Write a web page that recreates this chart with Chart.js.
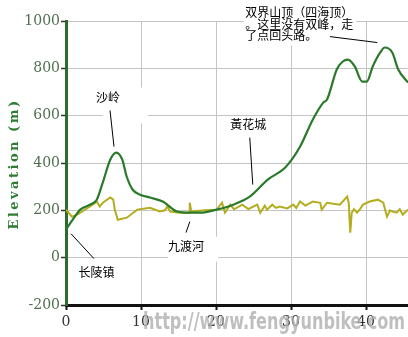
<!DOCTYPE html>
<html lang="zh">
<head>
  <meta charset="UTF-8" />
  <title>Elevation profile</title>
  <style>
    body { margin: 0; background: #fff; }
    #wrap { width: 408px; height: 337px; }
  </style>
</head>
<body>
<div id="wrap">
  <canvas id="profile" width="408" height="337"></canvas>
</div>
<script src="https://cdn.jsdelivr.net/npm/chart.js"></script>
<script type="text/javascript">
  // Elevation (green), distance in km
  const distGreen = [0, 0.9, 1.9, 3.2, 4.1, 4.9, 5.9, 6.7, 7.5, 8.1, 8.9, 9.9, 11.2, 12.9, 14.8, 16.5, 17.9, 20.1, 22.3, 24.5, 26.9, 29.2, 31.2, 32.9, 34.3, 34.8, 36.1, 36.9, 37.6, 38.5, 39.5, 40.1, 40.9, 41.9, 42.5, 43.5, 44.3, 45.6];
  const elevGreen = [120, 161, 203, 224, 245, 317, 414, 444, 414, 342, 287, 266, 254, 237, 195, 190, 190, 203, 224, 258, 330, 380, 469, 583, 655, 668, 795, 829, 837, 808, 744, 744, 808, 867, 888, 867, 795, 740];

  // second (yellow) trace
  const distYellow = [0, 0.8, 1.5, 3.2, 4.1, 4.5, 4.9, 5.9, 6.3, 6.5, 6.9, 8.1, 9.5, 11.2, 12.5, 13.2, 13.5, 13.9, 15.2, 16.4, 16.5, 16.7, 18.5, 20.1, 20.8, 21.2, 21.9, 22.4, 22.8, 23.5, 24.3, 24.9, 25.5, 25.9, 26.5, 26.8, 27.5, 28.0, 28.5, 29.5, 30.3, 30.7, 31.2, 31.9, 32.9, 33.9, 34.1, 34.8, 36.5, 37.5, 37.7, 37.9, 38.1, 38.4, 38.8, 39.2, 39.6, 40.5, 41.6, 42.3, 42.8, 43.2, 43.5, 44.1, 44.5, 44.9, 45.6];
  const valYellow = [203, 173, 182, 216, 237, 216, 232, 254, 245, 203, 160, 169, 203, 211, 195, 200, 216, 195, 190, 190, 232, 195, 200, 203, 232, 190, 224, 205, 211, 224, 205, 215, 224, 190, 220, 203, 224, 210, 216, 208, 224, 210, 237, 220, 237, 232, 203, 232, 224, 258, 230, 106, 190, 205, 190, 205, 224, 237, 245, 232, 173, 200, 195, 190, 205, 182, 203];

  // axes
  const xTicks = [0, 10, 20, 30, 40];
  const xMax = 45.6;
  const yMin = -200, yMax = 1000, yStep = 200;

  // callouts: text anchor, pointer line and white box, all in data units
  const notes = [
    { lines: ['沙岭'], at: [5.6, 676], from: [5.87, 622], to: [6.4, 469], box: [4.9, 719, 10.9, 567] },
    { lines: ['长陵镇'], at: [4.07, -63], from: [0.67, 101], to: [3.73, -4] },
    { lines: ['九渡河'], at: [16.0, 47], from: [16.5, 152], to: [16.0, 106], box: [13.6, 89, 20.3, -17] },
    { lines: ['黃花城'], at: [24.3, 562], from: [24.5, 507], to: [24.9, 309], box: [21.6, 592, 27.0, 528] },
    { lines: ['双界山顶（四海顶）', '。这里没有双峰，走', '了点回头路。'], at: [23.9, 1036], left: true,
      from: [35.2, 934], to: [41.5, 909], box: [23.7, 1083, 38.7, 896] }
  ];

  const toPts = (xs, ys) => xs.map((x, i) => ({ x: x, y: ys[i] }));

  const notesPlugin = {
    id: 'notes',
    beforeDatasetsDraw(chart) {
      const { ctx, scales: { x, y } } = chart;
      ctx.save();
      ctx.fillStyle = '#fff';
      notes.forEach(n => {
        if (!n.box) return;
        const x1 = x.getPixelForValue(n.box[0]), y1 = y.getPixelForValue(n.box[1]);
        const x2 = x.getPixelForValue(n.box[2]), y2 = y.getPixelForValue(n.box[3]);
        ctx.fillRect(x1, y1, x2 - x1, y2 - y1);
      });
      ctx.restore();
    },
    afterDraw(chart) {
      const { ctx, scales: { x, y } } = chart;
      ctx.save();
      ctx.strokeStyle = '#000';
      ctx.lineWidth = 1;
      ctx.fillStyle = '#000';
      ctx.font = '12px "Noto Sans CJK SC"';
      ctx.textBaseline = 'middle';
      notes.forEach(n => {
        ctx.beginPath();
        ctx.moveTo(x.getPixelForValue(n.from[0]), y.getPixelForValue(n.from[1]));
        ctx.lineTo(x.getPixelForValue(n.to[0]), y.getPixelForValue(n.to[1]));
        ctx.stroke();
        ctx.textAlign = n.left ? 'left' : 'center';
        const tx = x.getPixelForValue(n.at[0]);
        const ty = y.getPixelForValue(n.at[1]);
        n.lines.forEach((t, i) => ctx.fillText(t, tx, ty + i * 11.5));
      });

      // y axis title, letter spaced
      ctx.save();
      ctx.translate(15, (chart.chartArea.top + chart.chartArea.bottom) / 2 + 1);
      ctx.rotate(-Math.PI / 2);
      ctx.font = 'bold 13px "DejaVu Serif"';
      ctx.letterSpacing = '2.5px';
      ctx.fillStyle = '#2f7d32';
      ctx.textAlign = 'center';
      ctx.fillText('Elevation (m)', 0, 0);
      ctx.restore();

      // watermark
      const wm = 'http://www.fengyunbike.com';
      ctx.font = 'bold 23px "Liberation Sans Narrow", "DejaVu Sans Condensed", sans-serif';
      ctx.textAlign = 'left';
      const w = ctx.measureText(wm).width;
      ctx.translate(143, 323);
      ctx.scale(262 / w, 1);
      ctx.fillStyle = 'rgba(175,175,175,0.8)';
      ctx.fillText(wm, 0, 0);
      ctx.restore();
    }
  };

  new Chart(document.getElementById('profile'), {
    type: 'line',
    data: {
      datasets: [{
        data: toPts(distGreen, elevGreen),
        borderColor: '#2a7a2a',
        borderWidth: 2.2,
        pointRadius: 0,
        cubicInterpolationMode: 'monotone'
      }, {
        data: toPts(distYellow, valYellow),
        borderColor: '#b3ad1f',
        borderWidth: 2,
        pointRadius: 0,
        tension: 0
      }]
    },
    options: {
      responsive: false,
      animation: false,
      layout: { padding: { top: 21, left: 0, right: 0, bottom: 0 } },
      plugins: { legend: { display: false }, tooltip: { enabled: false } },
      scales: {
        x: {
          type: 'linear',
          min: 0,
          max: xMax,
          afterBuildTicks: s => { s.ticks = xTicks.map(v => ({ value: v })); },
          afterFit: s => { s.height = 32; },
          ticks: { color: '#333', font: { family: 'DejaVu Serif', size: 14 }, padding: 4, maxRotation: 0, callback: v => String(v) },
          grid: { color: '#c4c4c4', lineWidth: 1, tickLength: 5, tickColor: '#111', tickWidth: 2 },
          border: { color: '#111', width: 3 }
        },
        y: {
          min: yMin,
          max: yMax,
          afterFit: s => { s.width = 66; },
          ticks: { stepSize: yStep, color: '#4f6f4f', font: { family: 'DejaVu Serif', size: 14 }, padding: 1, callback: v => String(v) },
          grid: { color: '#c4c4c4', lineWidth: 1, tickLength: 5, tickColor: '#333', tickWidth: 1.5 },
          border: { color: '#2d6a2d', width: 3 }
        }
      }
    },
    plugins: [notesPlugin]
  });
</script>
</body>
</html>
